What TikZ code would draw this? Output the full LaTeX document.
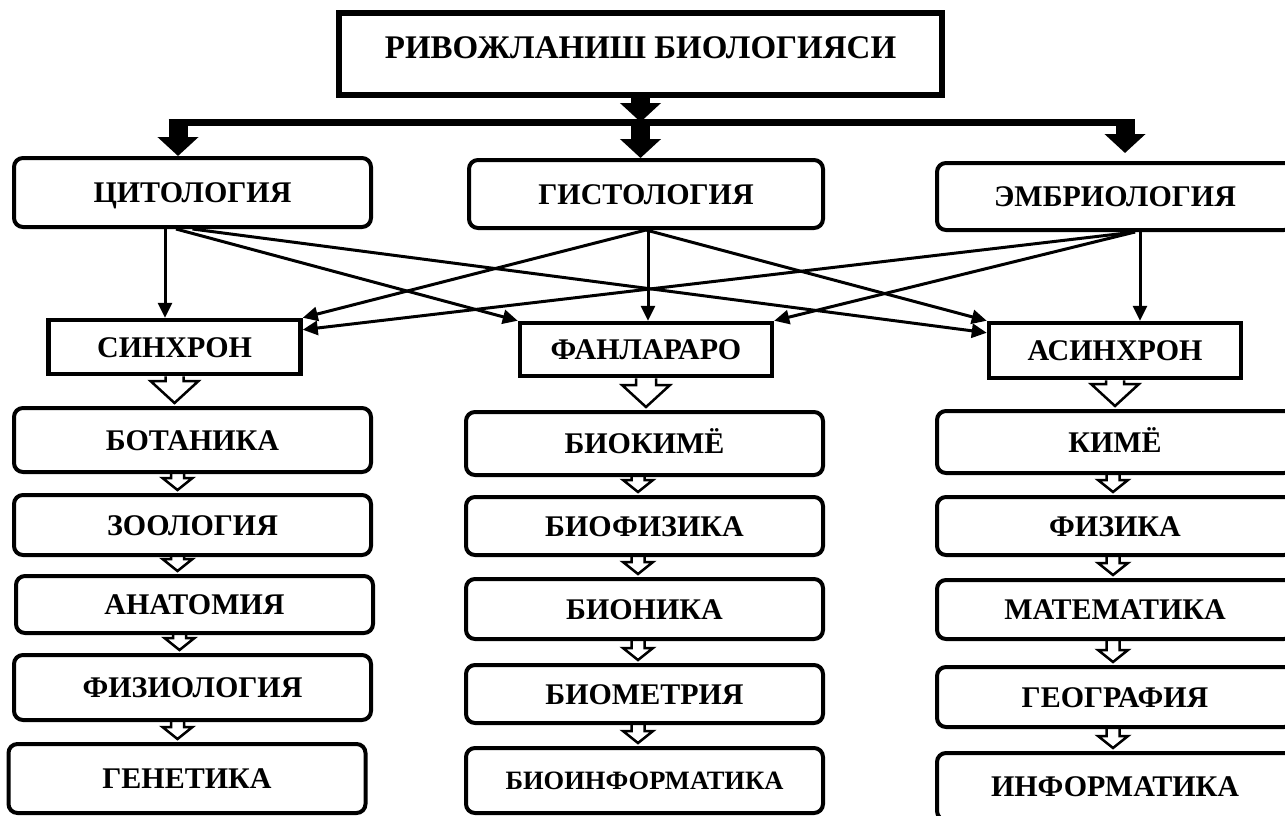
\documentclass[tikz,border=0pt]{standalone}
\usepackage{fontspec}
\setmainfont{Liberation Serif}
\usepackage{tikz}
\usetikzlibrary{positioning,calc,arrows.meta}

\begin{document}
\begin{tikzpicture}[x=1pt,y=-1pt,
  txt/.style={font=\fontsize{30}{36}\selectfont\bfseries,text height=20pt,text depth=0pt,inner sep=0pt},
  rbox/.style={txt,draw,line width=4pt,rounded corners=9pt,minimum width=357pt},
  sbox/.style={txt,draw,line width=4.5pt,minimum width=252pt},
  fat/.style={line width=19pt,-{Triangle[length=19pt,width=40pt]}},
  link/.style={line width=3pt,-{Triangle[length=15pt,width=14pt]}},
  hol/.style={line width=2.5pt,line join=miter}]
\useasboundingbox (0,0) rectangle (1285,816);
\clip (0,0) rectangle (1285,816);
\def\hollow#1#2#3#4#5{\draw[hol] let \p1=(#1), \p2=(#2) in
  (\x1-#3,\y1) -- (\x1-#3,\y2+#5) -- (\x1-#4,\y2+#5) -- (\x1,\y2)
  -- (\x1+#4,\y2+#5) -- (\x1+#3,\y2+#5) -- (\x1+#3,\y1);}

% top box and first row
\node[txt,draw,line width=6pt,minimum width=603pt,minimum height=82pt,font=\fontsize{33}{40}\selectfont\bfseries,text height=22pt,text depth=13pt] (riv) at (640.5,54) {РИВОЖЛАНИШ БИОЛОГИЯСИ};
\node[rbox,minimum height=69pt] (cit) at (192.5,192.5) {ЦИТОЛОГИЯ};
\node[rbox,minimum width=354pt,minimum height=68pt] (gis) at (646,194) {ГИСТОЛОГИЯ};
\node[rbox,minimum width=356pt,minimum height=67pt] (emb) at (1115,196.5) {ЭМБРИОЛОГИЯ};

% second row
\node[sbox,minimum height=54pt] (sin) at (174.5,347) {СИНХРОН};
\node[sbox,minimum height=53pt] (fan) at (646,349.5) {ФАНЛАРАРО};
\node[sbox,minimum height=55pt] (asin) at (1115,350.5) {АСИНХРОН};

% columns
\node[rbox,minimum height=64pt] (bot) at (192.5,440) {БОТАНИКА};
\node[rbox,minimum height=60pt] (zoo) at (192.5,525) {ЗООЛОГИЯ};
\node[rbox,minimum height=57pt] (ana) at (194.5,604.5) {АНАТОМИЯ};
\node[rbox,minimum height=65pt] (fizl) at (192.5,687.5) {ФИЗИОЛОГИЯ};
\node[rbox,minimum height=69pt] (gen) at (187,778.5) {ГЕНЕТИКА};

\node[rbox,minimum height=63pt] (bkim) at (644.5,443.5) {БИОКИМЁ};
\node[rbox,minimum height=58pt] (bfiz) at (644.5,526) {БИОФИЗИКА};
\node[rbox,minimum height=60pt] (bion) at (644.5,609) {БИОНИКА};
\node[rbox,minimum height=58pt] (bmet) at (644.5,694) {БИОМЕТРИЯ};
\node[rbox,minimum height=65pt,font=\fontsize{26.5}{30}\selectfont\bfseries,text height=17.5pt] (binf) at (644.5,780.5) {БИОИНФОРМАТИКА};

\node[rbox,minimum width=356pt,minimum height=62pt] (kime) at (1115,442) {КИМЁ};
\node[rbox,minimum width=356pt,minimum height=58pt] (fizk) at (1115,526) {ФИЗИКА};
\node[rbox,minimum width=356pt,minimum height=59pt] (mat) at (1115,609.5) {МАТЕМАТИКА};
\node[rbox,minimum width=356pt,minimum height=60pt] (geo) at (1115,697) {ГЕОГРАФИЯ};
\node[rbox,minimum width=356pt,minimum height=67pt] (inf) at (1115,786.5) {ИНФОРМАТИКА};

% thick arrows
\coordinate (barL) at (178,122);
\coordinate (barR) at (1125,122);
\draw[line width=7pt] ([xshift=-9.5pt]barL) -- ([xshift=9.5pt]barR);
\draw[fat] (riv.south) -- (riv.south |- barL);
\draw[fat] (riv.south |- barL) -- (riv.south |- gis.north);
\draw[fat] (barL) -- (barL |- cit.north);
\draw[fat,shorten >=8pt] (barR) -- (barR |- emb.north);

% thin arrows
\coordinate (c1) at ([xshift=-27.5pt]cit.south);
\coordinate (c2) at ([xshift=-16.5pt]cit.south);
\coordinate (g1) at ([xshift=2pt]gis.south);
\coordinate (e1) at ([xshift=20pt]emb.south);
\coordinate (e2) at ([xshift=25pt]emb.south);
\draw[link] (c1) -- (c1 |- sin.north);
\draw[link] (c2) -- (fan.north west);
\draw[link] (cit.south) -- ([yshift=-12pt]asin.north west);
\draw[link] (gis.south) -- (sin.north east);
\draw[link] (g1) -- (g1 |- fan.north);
\draw[link] (gis.south) -- (asin.north west);
\draw[link] (e1) -- ([yshift=-12pt]sin.north east);
\draw[link] (e1) -- (fan.north east);
\draw[link] (e2) -- (e2 |- asin.north);

% hollow arrows
\hollow{sin.south}{[yshift=3pt]bot.north}{9pt}{24pt}{22pt}
\hollow{fan.south}{[yshift=3pt]bkim.north}{10pt}{24pt}{22pt}
\hollow{asin.south}{[yshift=3pt]kime.north}{9pt}{24pt}{22pt}
\foreach \a/\b in {bot/zoo,zoo/ana,ana/fizl,fizl/gen}
  {\hollow{[xshift=-15pt]\a.south}{[yshift=3pt]\b.north}{6.5pt}{15pt}{12pt}}
\foreach \a/\b in {bkim/bfiz,bfiz/bion,bion/bmet,bmet/binf}
  {\hollow{[xshift=-6.5pt]\a.south}{[yshift=3pt]\b.north}{6.5pt}{15pt}{12pt}}
\foreach \a/\b in {kime/fizk,fizk/mat,mat/geo,geo/inf}
  {\hollow{[xshift=-2pt]\a.south}{[yshift=3pt]\b.north}{6.5pt}{15pt}{12pt}}
\end{tikzpicture}
\end{document}
